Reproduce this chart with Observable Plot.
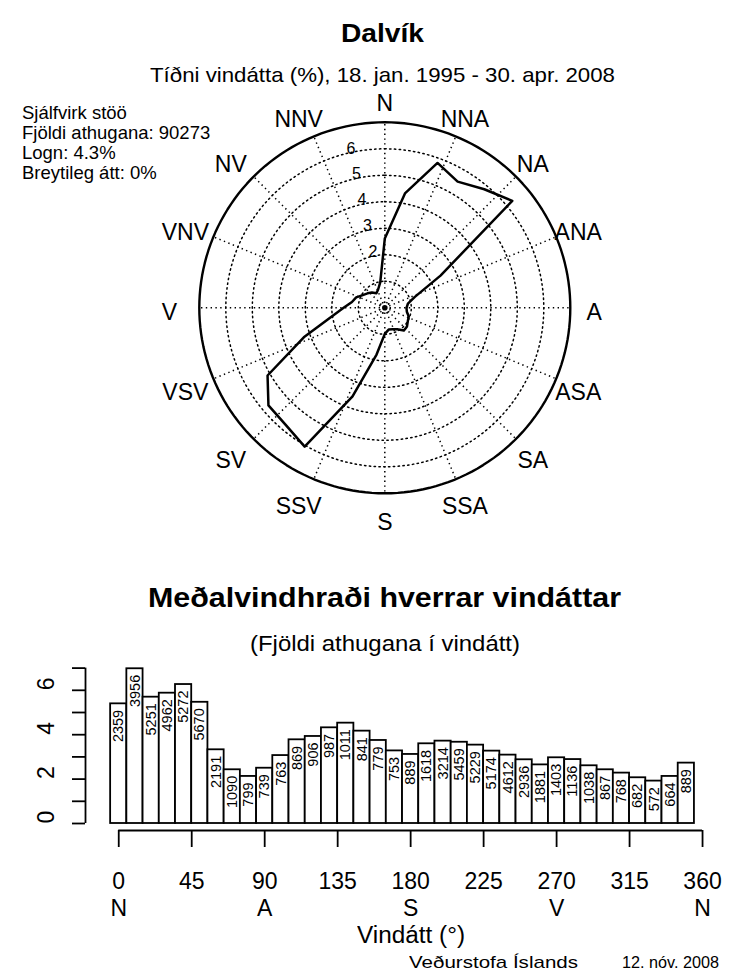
<!DOCTYPE html>
<html><head><meta charset="utf-8">
<script src="https://cdn.jsdelivr.net/npm/d3@7"></script>
<script src="https://cdn.jsdelivr.net/npm/@observablehq/plot@0.6"></script>
<style>
body{margin:0;background:#fff;}
#page{position:relative;width:731px;height:974px;overflow:hidden;font-family:"Liberation Sans",Arial,Helvetica,sans-serif;color:#000;background:#fff;}
.t{position:absolute;white-space:nowrap;line-height:1;transform-origin:0 0;}
.plotbox{position:absolute;left:0;}
</style></head><body><div id="page"></div>
<script>
// ---------- data ----------
const directions = [0,10,20,30,40,50,60,70,80,90,100,110,120,130,140,150,160,170,180,190,200,210,220,230,240,250,260,270,280,290,300,310,320,330,340,350];
const counts = [2359,3956,5251,4962,5272,5670,2191,1090,799,739,763,869,906,987,1011,841,779,753,889,1618,3214,5459,5229,5174,4612,2936,1881,1403,1136,1038,867,768,682,572,664,889];
const meanSpeed = [5.39,6.97,5.69,5.87,6.26,5.46,3.32,2.42,2.12,2.49,3.06,3.77,3.92,4.31,4.52,4.16,3.74,3.27,3.11,3.59,3.71,3.66,3.53,3.26,3.08,2.87,2.64,2.96,2.88,2.60,2.42,2.27,2.06,1.91,2.12,2.72];
const totalObs = 90273;
const compassLabels = ["N","NNA","NA","ANA","A","ASA","SA","SSA","S","SSV","SV","VSV","V","VNV","NV","NNV"];
const ringValues = [1,2,3,4,5,6];
const ringLabelValues = [2,3,4,5,6];
const outerRing = 7;
const xTickValues = [0,45,90,135,180,225,270,315,360];
const letterTicks = [0,90,180,270,360];
const letterLabels = ["N","A","S","V","N"];
const yTickValues = [0,1,2,3,4,5,6,7];
const yLabelValues = [0,2,4,6];
const infoLines = ["Sjálfvirk stöö","Fjöldi athugana: 90273","Logn: 4.3%","Breytileg átt: 0%"];

const page = document.getElementById("page");
const FONT = "Liberation Sans, Arial, Helvetica, sans-serif";

function addText(str, {x, baseline, size, bold=false, anchor="start", width=null}) {
  const d = document.createElement("div");
  d.className = "t";
  d.textContent = str;
  d.style.fontSize = size + "px";
  d.style.fontWeight = bold ? "bold" : "normal";
  d.style.top = (baseline - 0.8465*size) + "px";
  page.appendChild(d);
  const w0 = d.getBoundingClientRect().width;
  const w = width || w0;
  const s = w / w0;
  d.style.transform = `scaleX(${s})`;
  d.style.left = (anchor === "middle" ? x - w/2 : x) + "px";
}

// ---------- wind rose ----------
const rad = a => a*Math.PI/180;
const px = (r,a) => r*Math.sin(rad(a));
const py = (r,a) => r*Math.cos(rad(a));
const U = 26.5, roseTop = 85, roseH = 460, cx = 384.3, cy = 222.3;

const roseData = directions.map((a,i) => ({a, pct: counts[i]/totalObs*100}));
const circAngles = d3.range(0, 361, 2);
const ringPts = ringValues.flatMap(k => circAngles.map(a => ({k, a})));
const outerPts = circAngles.map(a => ({k: outerRing, a}));
const spokeAngles = compassLabels.map((_, i) => i*22.5);
const labelData = compassLabels.map((name, i) => ({name, a: i*22.5}));
const eastLabels = labelData.filter(d => d.a <= 180);
const westLabels = labelData.filter(d => d.a > 180);
const dotted = {stroke:"black", strokeWidth:1.5, strokeDasharray:"1.4,3.4"};
const LR = 7.9;

const rose = Plot.plot({
  width: 731, height: roseH, margin: 0,
  style: {fontFamily: FONT, background: "transparent"},
  x: {domain: [-cx/U, (731-cx)/U], axis: null},
  y: {domain: [-(roseH-cy)/U, cy/U], axis: null},
  marks: [
    Plot.line(ringPts, {x: d=>px(d.k,d.a), y: d=>py(d.k,d.a), z:"k", ...dotted}),
    Plot.link(spokeAngles, {x1: 0, y1: 0, x2: a=>px(outerRing,a), y2: a=>py(outerRing,a), ...dotted}),
    Plot.dot([0], {x: 0, y: 0, r: 5.5, ...dotted, fill: "none"}),
    Plot.dot([0], {x: 0, y: 0, r: 2.8, fill: "black"}),
    Plot.line(outerPts, {x: d=>px(d.k,d.a), y: d=>py(d.k,d.a), stroke:"black", strokeWidth:2.4}),
    Plot.line(roseData, {x: d=>px(d.pct,d.a), y: d=>py(d.pct,d.a), curve:"linear-closed", stroke:"black", strokeWidth:2.5}),
    Plot.text(ringLabelValues, {x: k=>px(k+0.15,-12), y: k=>py(k+0.15,-12), text: k=>String(k), fontSize: 16}),
    Plot.text(eastLabels, {x: d=>px(LR,d.a), y: d=>py(LR,d.a), text: "name", fontSize: 23, dy: 5}),
    Plot.text(westLabels, {x: d=>px(LR,d.a), y: d=>py(LR,d.a), text: "name", fontSize: 23, dy: 5, dx: -6})
  ]
});
rose.classList.add("plotbox");
rose.style.top = roseTop + "px";
page.appendChild(rose);

// ---------- bar chart ----------
const barData = directions.map((dir,i) => ({dir, count: counts[i], speed: meanSpeed[i]}));
const barTop = 640, barH = 320, frameBottom = 190, Ky = 22.2;
const yDom = [-7/Ky, 7.2];
const xDom = [-20.5, 372];
const bars = Plot.plot({
  width: 731, height: barH,
  marginLeft: 85, marginRight: 9.5, marginBottom: barH - frameBottom,
  marginTop: frameBottom - (yDom[1]-yDom[0])*Ky,
  style: {fontFamily: FONT, background: "transparent"},
  x: {domain: xDom, label: null},
  y: {domain: yDom, label: null},
  marks: [
    Plot.rect(barData, {x1: d=>d.dir-5, x2: d=>d.dir+5, y1: 0, y2: "speed", fill:"white", stroke:"black", strokeWidth:1.8}),
    Plot.text(barData, {x:"dir", y:"speed", text: d=>String(d.count), rotate:-90, textAnchor:"end", dy:6, fontSize:14.5}),
    Plot.ruleX([xDom[0]], {y1: 0, y2: 7, stroke:"black", strokeWidth:1.8}),
    Plot.axisY({ticks: yTickValues, tickSize: 13, tickFormat: () => "", strokeWidth: 1.8, label: null}),
    Plot.text(yLabelValues, {y: d=>d, text: d=>String(d), frameAnchor:"left", dx:-39, rotate:-90, fontSize:23}),
    Plot.ruleY([yDom[0]], {x1: 0, x2: 360, stroke:"black", strokeWidth:1.8}),
    Plot.axisX({ticks: xTickValues, tickSize: 17, tickPadding: 25, fontSize: 23, strokeWidth: 1.8, tickFormat: d=>String(d), label: null}),
    Plot.axisX({ticks: letterTicks, tickSize: 0, tickPadding: 69, fontSize: 23, tickFormat: d=>letterLabels[letterTicks.indexOf(d)], label: null})
  ]
});
bars.classList.add("plotbox");
bars.style.top = barTop + "px";
page.appendChild(bars);

// ---------- texts ----------
addText("Dalvík", {x: 382, baseline: 42, size: 25, bold: true, anchor: "middle", width: 83});
addText("Tíðni vindátta (%), 18. jan. 1995 - 30. apr. 2008", {x: 382, baseline: 82, size: 21, anchor: "middle", width: 465});
[119.3, 139.3, 160, 180].forEach((b,i) => addText(infoLines[i], {x: 22, baseline: b, size: 18.5}));
addText("Meðalvindhraði hverrar vindáttar", {x: 384, baseline: 608, size: 27, bold: true, anchor: "middle", width: 473});
addText("(Fjöldi athugana í vindátt)", {x: 385, baseline: 652, size: 22, anchor: "middle", width: 270});
addText("Vindátt (°)", {x: 411, baseline: 943, size: 23, anchor: "middle", width: 108});
addText("Veðurstofa Íslands", {x: 409, baseline: 968, size: 17, width: 169});
addText("12. nóv. 2008", {x: 622, baseline: 968, size: 17, width: 97});
</script></body></html>
